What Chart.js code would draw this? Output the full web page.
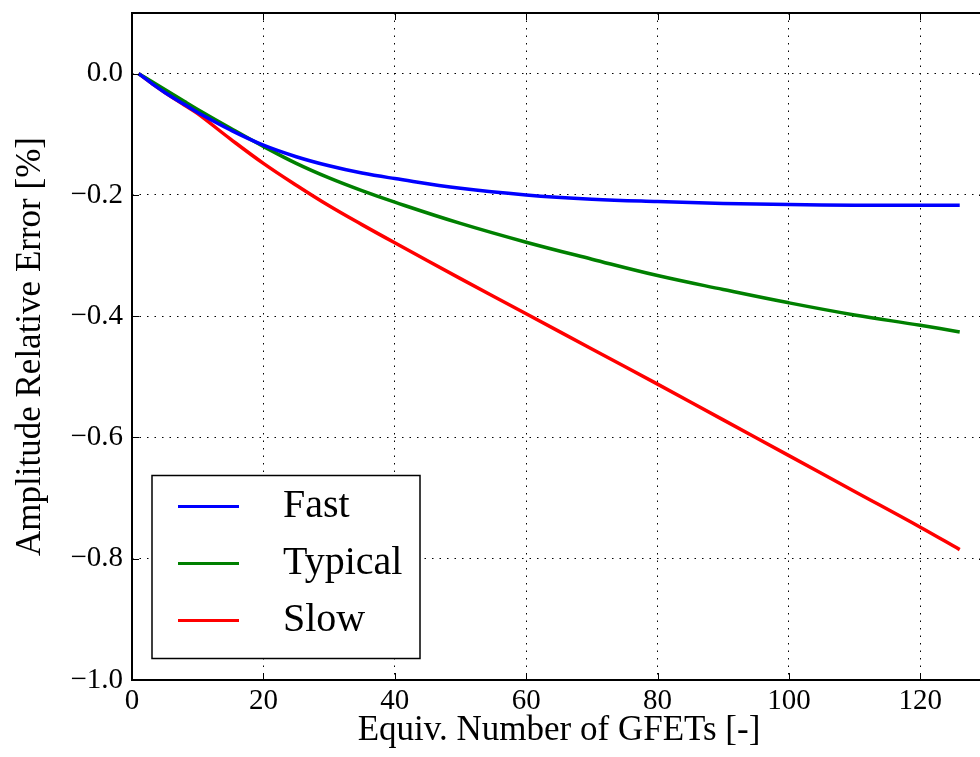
<!DOCTYPE html>
<html>
<head>
<meta charset="utf-8">
<script src="https://cdn.jsdelivr.net/npm/chart.js@4.4.0/dist/chart.umd.min.js"></script>
<style>
  html, body { margin: 0; padding: 0; background: #fff; overflow: hidden; }
  #wrap { width: 990px; height: 757px; }
</style>
</head>
<body>
<div id="wrap"><canvas id="chart" width="990" height="757"></canvas></div>
<script>
// equivalent number of GFETs (x) and relative amplitude error in % for each corner
const gfets = [1, 3, 5, 8, 10, 15, 20, 25, 30, 35, 40, 50, 60, 70, 80, 90, 100, 110, 120, 126];
const fast = [0, -0.016, -0.031, -0.051, -0.064, -0.093, -0.118, -0.137, -0.152, -0.164, -0.173, -0.189, -0.200, -0.207, -0.211, -0.214, -0.216, -0.217, -0.217, -0.217];
const typical = [0, -0.013, -0.026, -0.046, -0.059, -0.090, -0.120, -0.148, -0.172, -0.193, -0.212, -0.247, -0.278, -0.306, -0.333, -0.356, -0.378, -0.398, -0.415, -0.426];
const slow = [0, -0.016, -0.031, -0.052, -0.066, -0.108, -0.148, -0.184, -0.218, -0.249, -0.279, -0.338, -0.396, -0.454, -0.512, -0.571, -0.630, -0.689, -0.748, -0.785];

const seriesNames = ['Fast', 'Typical', 'Slow'];
const seriesColors = ['#0000ff', '#008000', '#ff0000'];
const xTicks = [0, 20, 40, 60, 80, 100, 120];
const yTicks = [-1.0, -0.8, -0.6, -0.4, -0.2, 0.0];

const serif = "'Liberation Serif', 'DejaVu Serif', serif";

function points(values) {
  return gfets.map((g, i) => ({ x: g, y: values[i] }));
}

// inward ticks + black frame like the old matplotlib style
const framePlugin = {
  id: 'frame',
  afterDatasetsDraw(chart) {
    const { ctx, chartArea: a, scales: { x, y } } = chart;
    ctx.save();
    ctx.strokeStyle = '#000';
    ctx.lineWidth = 1;
    ctx.beginPath();
    x.ticks.forEach((t) => {
      const px = Math.round(x.getPixelForValue(t.value)) + 0.5;
      ctx.moveTo(px, a.bottom); ctx.lineTo(px, a.bottom - 7);
      ctx.moveTo(px, a.top); ctx.lineTo(px, a.top + 7);
    });
    y.ticks.forEach((t) => {
      const py = Math.round(y.getPixelForValue(t.value)) + 0.5;
      ctx.moveTo(a.left, py); ctx.lineTo(a.left + 7, py);
      ctx.moveTo(a.right, py); ctx.lineTo(a.right - 7, py);
    });
    ctx.stroke();
    ctx.lineWidth = 2;
    ctx.strokeRect(a.left, a.top, a.right - a.left, a.bottom - a.top);
    ctx.restore();
  },
};

const legendPlugin = {
  id: 'boxLegend',
  afterDraw(chart) {
    const { ctx, chartArea: a } = chart;
    const w = 268, h = 183;
    const left = a.left + 20;
    const top = a.bottom - 21.5 - h;
    ctx.save();
    ctx.fillStyle = '#fff';
    ctx.fillRect(left, top, w, h);
    ctx.strokeStyle = '#000';
    ctx.lineWidth = 1.5;
    ctx.strokeRect(left, top, w, h);
    ctx.font = '40px ' + serif;
    ctx.textBaseline = 'middle';
    ctx.fillStyle = '#000';
    chart.data.datasets.forEach((ds, i) => {
      const yy = top + 31 + i * 57;
      ctx.strokeStyle = ds.borderColor;
      ctx.lineWidth = 3;
      ctx.beginPath();
      ctx.moveTo(left + 26, yy);
      ctx.lineTo(left + 87, yy);
      ctx.stroke();
      ctx.fillText(ds.label, left + 131, yy);
    });
    ctx.restore();
  },
};

const ctx = document.getElementById('chart');
new Chart(ctx, {
  type: 'line',
  data: {
    datasets: [fast, typical, slow].map((vals, i) => ({
      label: seriesNames[i],
      data: points(vals),
      borderColor: seriesColors[i],
      backgroundColor: seriesColors[i],
      borderWidth: 3.5,
      pointRadius: 0,
      tension: 0.4,
      fill: false,
    })),
  },
  options: {
    responsive: false,
    animation: false,
    devicePixelRatio: 1,
    layout: { padding: { top: 13, right: 4, left: 0, bottom: 0 } },
    plugins: {
      legend: { display: false },
      tooltip: { enabled: false },
    },
    scales: {
      x: {
        type: 'linear',
        min: 0,
        max: 130,
        afterBuildTicks: (s) => { s.ticks = xTicks.map((v) => ({ value: v })); },
        afterFit: (s) => { s.height = 77; s.paddingLeft = 0; s.paddingRight = 0; },
        grid: { color: '#000', lineWidth: 1, drawTicks: false },
        border: { display: false, dash: [1.5, 6] },
        ticks: { color: '#000', padding: 4, font: { family: serif, size: 29 }, maxRotation: 0 },
        title: { display: true, text: 'Equiv. Number of GFETs [-]', color: '#000', font: { family: serif, size: 35 }, padding: { top: 0, bottom: 5 } },
      },
      y: {
        type: 'linear',
        min: -1.0,
        max: 0.1,
        afterBuildTicks: (s) => { s.ticks = yTicks.map((v) => ({ value: v })); },
        afterFit: (s) => { s.width = 132; s.paddingTop = 0; s.paddingBottom = 0; },
        grid: { color: '#000', lineWidth: 1, drawTicks: false },
        border: { display: false, dash: [1.5, 6] },
        ticks: {
          color: '#000',
          padding: 9,
          font: { family: serif, size: 29 },
          callback: (v) => v.toFixed(1).replace('-', '\u2212'),
        },
        title: { display: true, text: 'Amplitude Relative Error [%]', color: '#000', font: { family: serif, size: 35 }, padding: { top: 10, bottom: 0 } },
      },
    },
  },
  plugins: [framePlugin, legendPlugin],
});
</script>
</body>
</html>
